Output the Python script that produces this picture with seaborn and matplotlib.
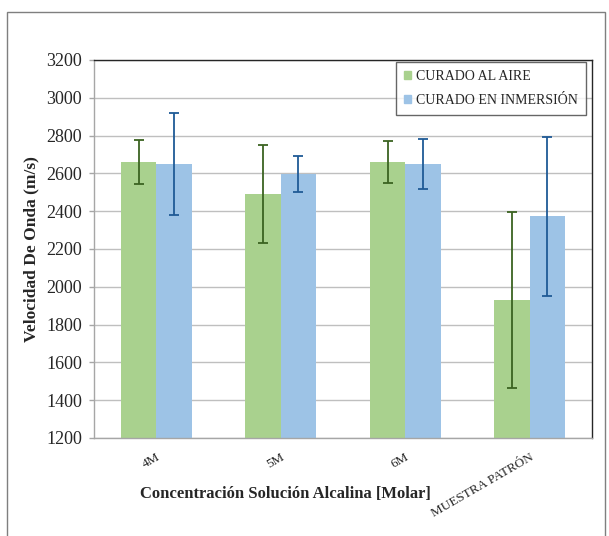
import pandas as pd
import matplotlib.pyplot as plt
import matplotlib.patches as mpatches
import seaborn as sns

# Data
categories = ['4M', '5M', '6M', 'MUESTRA PATRÓN']
series = ['CURADO AL AIRE', 'CURADO EN INMERSIÓN']
aire_vals = [2660, 2492, 2662, 1930]
aire_err = [117, 260, 112, 467]
inmersion_vals = [2650, 2597, 2650, 2372]
inmersion_err = [270, 93, 132, 422]

df = pd.DataFrame({
    'cat': categories * 2,
    'serie': [series[0]] * 4 + [series[1]] * 4,
    'vel': aire_vals + inmersion_vals,
})

sns.set_style('white')
plt.rcParams['font.family'] = ['Liberation Serif', 'DejaVu Serif']

bar_colors = ['#A9D18E', '#9DC3E6']
err_colors = ['#3B6321', '#1F5A96']

fig = plt.figure(figsize=(6.09, 5.36), dpi=100)
ax = fig.add_axes([94 / 609, 1 - 438 / 536, (592 - 94) / 609, (438 - 60) / 536])

sns.barplot(data=df, x='cat', y='vel', hue='serie', order=categories,
            hue_order=series, palette=bar_colors, width=0.57, saturation=1,
            errorbar=None, ax=ax, edgecolor='none', zorder=2)

# error bars at the centre of each bar drawn by seaborn
errs = [aire_err, inmersion_err]
bar_conts = list(ax.containers)
for i, cont in enumerate(bar_conts):
    xs = [p.get_x() + p.get_width() / 2 for p in cont.patches]
    ys = [p.get_height() for p in cont.patches]
    ax.errorbar(xs, ys, yerr=errs[i], fmt='none', ecolor=err_colors[i],
                elinewidth=1.3, capsize=3.5, capthick=1.3, zorder=3)

ax.set_ylim(1200, 3200)
ax.set_yticks(range(1200, 3201, 200))
ax.set_xlim(-0.5, 3.5)
ax.yaxis.grid(True, color='#BFBFBF', linewidth=1.0, zorder=0)
ax.set_axisbelow(True)

for s in ['left', 'bottom']:
    ax.spines[s].set_color('#A6A6A6')
for s in ['top', 'right']:
    ax.spines[s].set_color('#262626')
for s in ax.spines.values():
    s.set_linewidth(1.0)

ax.tick_params(axis='y', which='both', left=True, length=3.5, width=1,
               color='#A6A6A6', labelsize=13, pad=5)
ax.tick_params(axis='x', bottom=False, labelsize=9.5, pad=6)
for lbl in ax.get_xticklabels():
    lbl.set_rotation(30)
    lbl.set_ha('right')
    lbl.set_rotation_mode('anchor')

ax.set_xlabel('Concentración Solución Alcalina [Molar]', fontsize=12,
              fontweight='bold')
ax.xaxis.set_label_coords((285 - 94) / 498, (438 - 486) / 378)
ax.set_ylabel('Velocidad De Onda (m/s)', fontsize=12.5, fontweight='bold',
              labelpad=5)

handles = [mpatches.Patch(color=c, label=l) for c, l in zip(bar_colors, series)]
leg = ax.legend(handles=handles, loc='upper right', fontsize=10,
                frameon=True, fancybox=False, edgecolor='#404040',
                handlelength=0.5, handleheight=0.5, handletextpad=0.35,
                borderpad=0.6, labelspacing=0.75, borderaxespad=0,
                bbox_to_anchor=((586 - 94) / 498, (438 - 62) / 378))
leg.get_frame().set_linewidth(1.0)

# outer frame of the chart
fig.add_artist(mpatches.Rectangle((7 / 609, -0.05), (605 - 7) / 609, 1.05 - 12 / 536,
                                  transform=fig.transFigure, fill=False,
                                  edgecolor='#7F7F7F', linewidth=1.0))

fig.savefig('out.png', dpi=100)
